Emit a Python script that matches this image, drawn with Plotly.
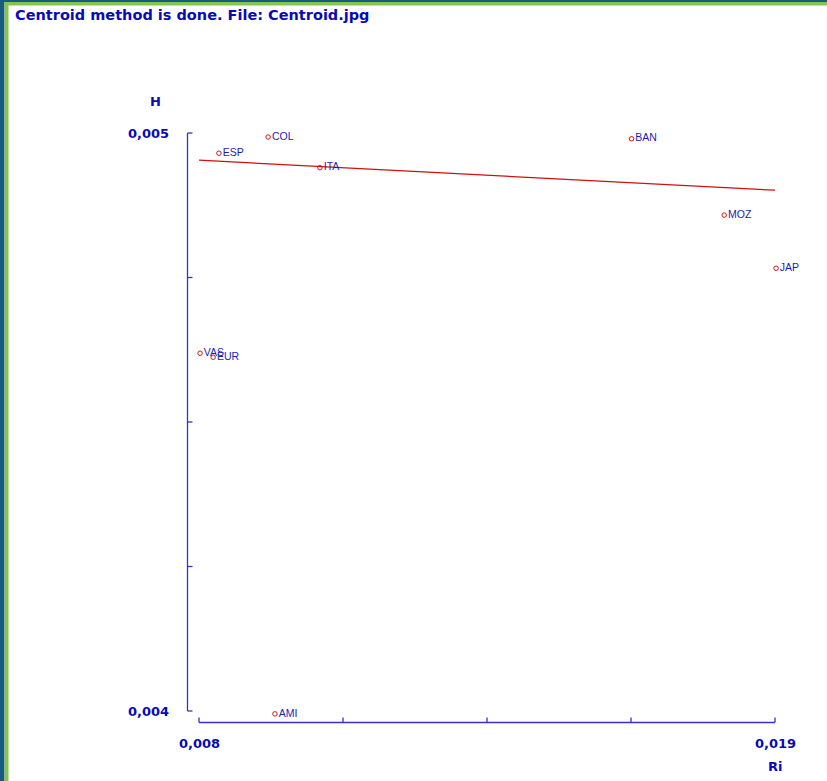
import plotly.graph_objects as go

# ---- data ----
countries = ["COL", "ESP", "ITA", "BAN", "MOZ", "JAP", "VAS", "EUR", "AMI"]
ri_values = [0.00932, 0.00838, 0.01031, 0.01626, 0.01803, 0.01902, 0.00802, 0.00827, 0.00945]
h_values = [0.004993, 0.004965, 0.004940, 0.004990, 0.004858, 0.004766, 0.004619, 0.004612, 0.003995]
fit_x = [0.008, 0.019]
fit_y = [0.004953, 0.004901]
x_tick_labels = ["0,008", "0,019"]
y_tick_labels = ["0,004", "0,005"]
x_ends = [0.008, 0.019]
y_ends = [0.004, 0.005]

W, H = 827, 781
# pixel positions of axis ends
XL, XR, YT, YB = 199, 775, 133, 711
# plot area (larger, so nothing is clipped)
PL, PR, PT_, PB = 150, 805, 110, 740


def xdata(p):
    return x_ends[0] + (p - XL) / (XR - XL) * (x_ends[1] - x_ends[0])


def ydata(p):
    return y_ends[0] + (YB - p) / (YB - YT) * (y_ends[1] - y_ends[0])


def px(p):
    return (p - PL) / (PR - PL)


def py(p):
    return (PB - p) / (PB - PT_)


x_range = [xdata(PL), xdata(PR)]
y_range = [ydata(PB), ydata(PT_)]

AXIS = "#3434c8"
LABEL = "#0a0ab4"
PTC = "#1c1cb0"

fig = go.Figure()
fig.add_trace(go.Scatter(x=fit_x, y=fit_y, mode="lines",
                         line=dict(color="#d01010", width=1.3),
                         hoverinfo="skip", showlegend=False))
fig.add_trace(go.Scatter(x=ri_values, y=h_values, mode="markers+text",
                         text=countries, textposition="middle right",
                         textfont=dict(family="Arial, Liberation Sans", size=10.5, color=PTC),
                         marker=dict(symbol="circle-open", size=4.5,
                                     color="#c81818", line=dict(width=1)),
                         cliponaxis=False, showlegend=False))

shapes = []
# frame
shapes.append(dict(type="rect", xref="paper", yref="paper", x0=px(0), x1=px(4.5),
                   y0=py(H), y1=py(0), fillcolor="#175a86", line=dict(width=0), layer="below"))
shapes.append(dict(type="rect", xref="paper", yref="paper", x0=px(0), x1=px(W),
                   y0=py(2), y1=py(0), fillcolor="#175a86", line=dict(width=0), layer="below"))
shapes.append(dict(type="rect", xref="paper", yref="paper", x0=px(4.5), x1=px(8.5),
                   y0=py(H), y1=py(2), fillcolor="#86c44e", line=dict(width=0), layer="below"))
shapes.append(dict(type="rect", xref="paper", yref="paper", x0=px(4.5), x1=px(W),
                   y0=py(5.5), y1=py(2), fillcolor="#86c44e", line=dict(width=0), layer="below"))

# y axis line and ticks (offset left)
ax_x = 187.5
shapes.append(dict(type="line", xref="paper", yref="paper", x0=px(ax_x), x1=px(ax_x),
                   y0=py(YB), y1=py(YT), line=dict(color=AXIS, width=1.3)))
for i in range(5):
    yy = YB - i * (YB - YT) / 4
    shapes.append(dict(type="line", xref="paper", yref="paper", x0=px(ax_x), x1=px(ax_x + 5),
                       y0=py(yy), y1=py(yy), line=dict(color=AXIS, width=1.3)))
# x axis line and ticks (offset down)
ax_y = 722.5
shapes.append(dict(type="line", xref="paper", yref="paper", x0=px(XL), x1=px(XR),
                   y0=py(ax_y), y1=py(ax_y), line=dict(color=AXIS, width=1.3)))
for i in range(5):
    xx = XL + i * (XR - XL) / 4
    shapes.append(dict(type="line", xref="paper", yref="paper", x0=px(xx), x1=px(xx),
                       y0=py(ax_y), y1=py(ax_y - 5), line=dict(color=AXIS, width=1.3)))

font_b = dict(family="DejaVu Sans", size=13, color=LABEL)
font_t = dict(family="DejaVu Sans", size=14.5, color=LABEL)
ann = []
ann.append(dict(x=px(13), y=py(15), xref="paper", yref="paper", text="<b>Centroid method is done. File: Centroid.jpg</b>",
                showarrow=False, xanchor="left", yanchor="middle", font=font_t))
ann.append(dict(x=px(155), y=py(101), xref="paper", yref="paper", text="<b>H</b>",
                showarrow=False, xanchor="center", yanchor="middle", font=font_b))
ann.append(dict(x=px(171), y=y_ends[1], xref="paper", yref="y", text="<b>" + y_tick_labels[1] + "</b>",
                showarrow=False, xanchor="right", yanchor="middle", font=font_b))
ann.append(dict(x=px(171), y=y_ends[0], xref="paper", yref="y", text="<b>" + y_tick_labels[0] + "</b>",
                showarrow=False, xanchor="right", yanchor="middle", font=font_b))
ann.append(dict(x=x_ends[0], y=py(743), xref="x", yref="paper", text="<b>" + x_tick_labels[0] + "</b>",
                showarrow=False, xanchor="center", yanchor="middle", font=font_b))
ann.append(dict(x=x_ends[1], y=py(743), xref="x", yref="paper", text="<b>" + x_tick_labels[1] + "</b>",
                showarrow=False, xanchor="center", yanchor="middle", font=font_b))
ann.append(dict(x=x_ends[1], y=py(766), xref="x", yref="paper", text="<b>Ri</b>",
                showarrow=False, xanchor="center", yanchor="middle", font=font_b))

fig.update_layout(
    width=W, height=H,
    margin=dict(l=PL, r=W - PR, t=PT_, b=H - PB, pad=0),
    paper_bgcolor="white", plot_bgcolor="white",
    xaxis=dict(range=x_range, showgrid=False, zeroline=False, showline=False,
               showticklabels=False, ticks=""),
    yaxis=dict(range=y_range, showgrid=False, zeroline=False, showline=False,
               showticklabels=False, ticks=""),
    shapes=shapes, annotations=ann, showlegend=False,
)

fig.write_html("out.html", config={"displayModeBar": False},
               post_script="document.body.style.margin='0';document.body.style.overflow='hidden';")
